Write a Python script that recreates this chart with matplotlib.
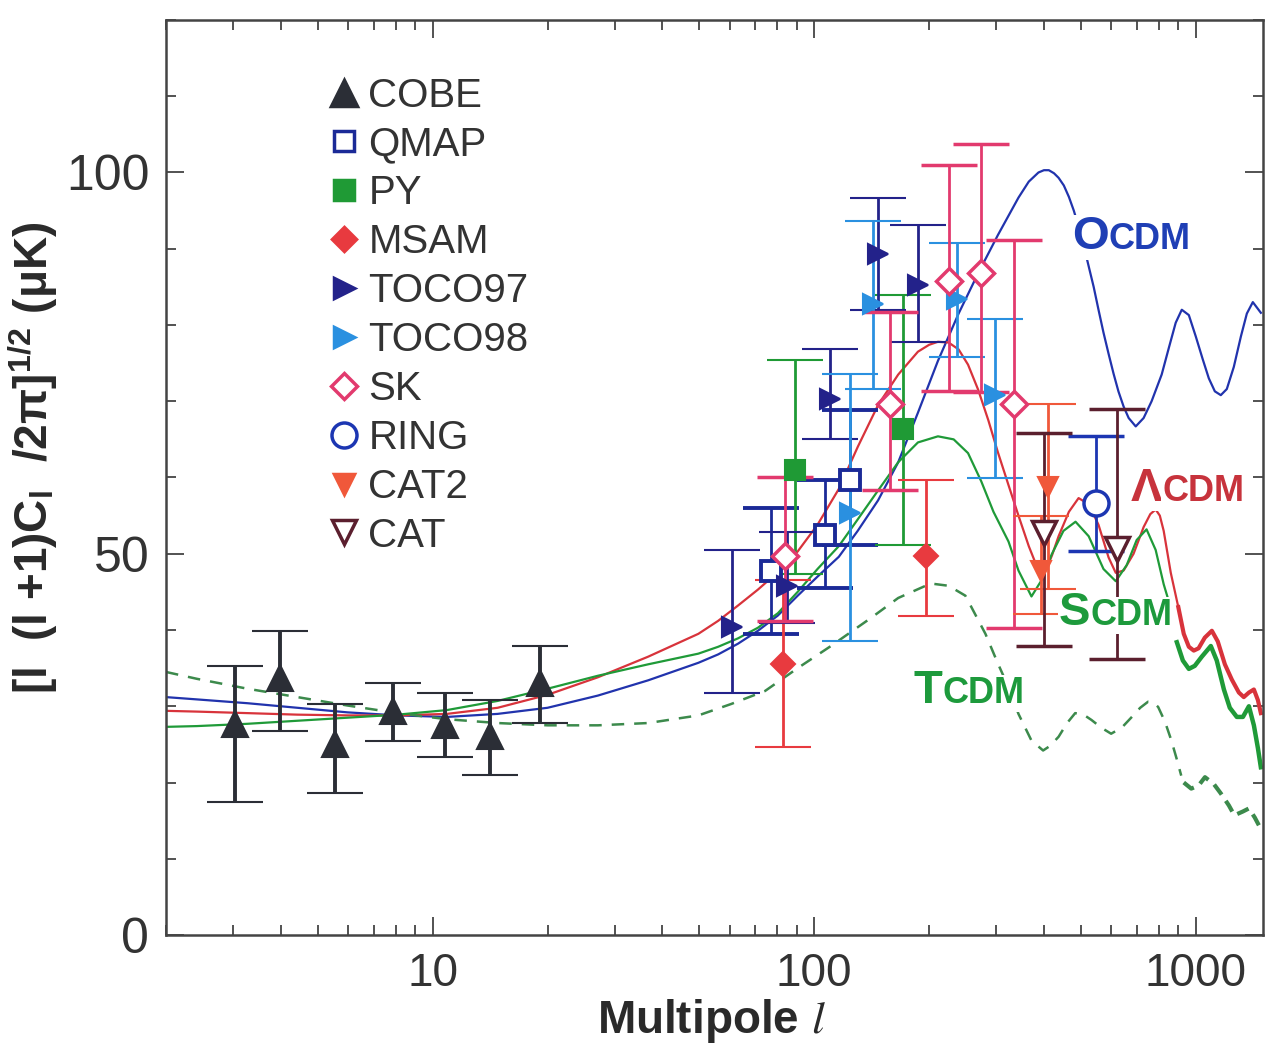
import numpy as np
import matplotlib.pyplot as plt
from matplotlib.lines import Line2D
from matplotlib.ticker import FixedLocator, LogLocator, NullFormatter, MultipleLocator

plt.rcParams['font.family'] = ['Liberation Sans', 'DejaVu Sans']
plt.rcParams['mathtext.fontset'] = 'stix'

# ---- model spectra (multipole l, amplitude in uK) ----
ocdm_l = [2.0, 2.41, 3.27, 4.42, 5.98, 8.09, 10.9, 14.8, 20.0, 27.1, 36.7, 49.7, 56.0, 63.1,
          71.2, 80.3, 90.5, 102, 116, 130, 147, 166, 187, 211, 239, 269, 303, 343, 365, 387,
          400, 412, 425, 437, 451, 465, 479, 493, 508, 524, 540, 556, 573, 591, 609, 627,
          647, 667, 696, 730, 766, 814, 850, 886, 919, 959, 1000, 1043, 1082, 1122, 1163,
          1206, 1258, 1313, 1361, 1411, 1481]
ocdm_t = [31.2, 30.9, 30.4, 29.8, 29.2, 28.8, 28.6, 29.0, 29.8, 31.4, 33.4, 35.7, 36.8, 38.2,
          39.9, 41.9, 44.5, 47.0, 49.6, 53.0, 57.0, 62.0, 68.5, 75.3, 81.5, 86.8, 91.8, 96.7,
          98.8, 100.0, 100.3, 100.3, 99.9, 99.3, 98.3, 96.8, 95.0, 92.9, 90.5, 87.7, 85.0,
          82.0, 79.0, 76.2, 73.6, 71.3, 69.3, 67.8, 66.7, 67.8, 70.0, 73.5, 77.0, 80.3, 82.0,
          81.3, 78.5, 75.5, 73.0, 71.3, 70.8, 71.6, 74.5, 78.5, 81.5, 83.0, 81.6]

lcdm_l = [2.0, 2.41, 3.27, 4.42, 5.98, 8.09, 10.9, 14.8, 20.0, 27.1, 36.7, 49.7, 56.0, 63.1,
          71.2, 80.3, 90.5, 102, 116, 130, 147, 166, 187, 200, 211, 225, 239, 253, 269, 286,
          303, 323, 343, 365, 387, 406, 420, 437, 465, 493, 524, 556, 591, 617, 647, 687,
          730, 760, 785, 805, 824, 860, 900]
lcdm_t = [29.4, 29.3, 29.1, 28.9, 28.8, 28.8, 29.0, 29.8, 31.5, 33.8, 36.5, 39.5, 41.2, 43.2,
          45.3, 47.6, 50.3, 53.8, 58.5, 64.0, 69.5, 73.5, 76.5, 77.4, 77.8, 77.7, 76.8, 74.8,
          71.5, 67.5, 63.3, 59.0, 55.0, 51.0, 47.8, 48.0, 49.8, 52.3, 55.5, 57.3, 56.5, 53.8,
          49.5, 47.5, 47.8, 50.0, 53.5, 55.2, 55.8, 55.0, 53.0, 47.5, 43.0]
lcdm_tail_l = [900, 930, 959, 988, 1017, 1056, 1102, 1142, 1192, 1243, 1297, 1336, 1378,
               1420, 1455, 1481]
lcdm_tail_t = [43.0, 39.5, 37.8, 37.3, 37.6, 39.0, 39.9, 38.5, 35.5, 33.5, 31.8, 31.2, 31.8,
               32.2, 30.8, 29.1]

scdm_l = [2.0, 2.41, 3.27, 4.42, 5.98, 8.09, 10.9, 14.8, 20.0, 27.1, 36.7, 49.7, 56.0, 63.1,
          71.2, 80.3, 90.5, 102, 116, 130, 147, 166, 187, 211, 232, 253, 274, 295, 323, 343,
          371, 394, 419, 450, 484, 524, 573, 617, 659, 700, 743, 785, 824, 847]
scdm_t = [27.3, 27.4, 27.7, 28.1, 28.5, 28.9, 29.5, 30.7, 32.3, 34.0, 35.5, 36.9, 37.8, 38.9,
          40.3, 42.2, 45.0, 48.0, 51.0, 54.5, 58.3, 62.0, 64.6, 65.4, 65.0, 63.2, 59.5, 55.5,
          51.6, 47.8, 44.4, 46.5, 49.9, 53.0, 54.2, 52.3, 48.0, 46.4, 48.5, 51.8, 53.2, 50.5,
          46.0, 44.0]
scdm_tail_l = [892, 925, 959, 994, 1037, 1095, 1135, 1185, 1228, 1281, 1329, 1378, 1420,
               1455, 1481]
scdm_tail_t = [38.4, 36.0, 34.9, 35.3, 36.5, 37.9, 36.0, 32.2, 29.8, 28.6, 28.6, 30.0, 27.5,
               24.5, 22.0]

tcdm_l = [2.0, 2.41, 3.27, 4.42, 5.98, 8.09, 10.9, 14.8, 20.0, 27.1, 36.7, 49.7, 60.6, 74.3,
          90.5, 110.6, 141, 166, 202, 225, 249, 281, 303, 323, 343, 371, 398, 415, 437, 460,
          483, 508, 533, 565, 600, 640, 677, 715, 750, 775, 797, 830, 862, 890, 916]
tcdm_t = [34.5, 33.6, 32.3, 31.2, 30.1, 29.1, 28.3, 27.8, 27.5, 27.5, 27.8, 28.8, 30.3, 32.0,
          35.0, 37.9, 41.6, 44.2, 46.1, 45.8, 44.5, 39.5, 35.6, 32.5, 29.0, 25.5, 24.2, 24.8,
          26.0, 27.8, 29.1, 28.9, 28.2, 27.2, 26.4, 27.2, 28.5, 29.8, 30.6, 30.5, 29.9, 28.0,
          25.6, 23.2, 20.9]
tcdm_tail_l = [930, 973, 1017, 1057, 1115, 1162, 1221, 1262, 1329, 1378, 1428, 1481]
tcdm_tail_t = [20.0, 19.2, 19.6, 20.7, 19.8, 18.6, 17.0, 15.7, 16.2, 16.6, 15.4, 13.9]

# ---- band-power measurements: l, value, lower and upper end of error bar ----
cobe_l = [3.04, 3.99, 5.53, 7.85, 10.75, 14.1, 19.1]
cobe_t = [27.7, 33.7, 25.1, 29.4, 27.5, 26.1, 33.1]
cobe_lo = [17.5, 26.8, 18.6, 25.4, 23.4, 21.0, 27.8]
cobe_hi = [35.3, 39.9, 30.3, 33.1, 31.8, 30.8, 37.9]

qmap_l = [77, 107, 124]
qmap_t = [47.8, 52.5, 59.7]
qmap_lo = [39.5, 45.5, 51.2]
qmap_hi = [56.0, 59.7, 68.9]

py_l = [89, 171]
py_t = [61.0, 66.3]
py_lo = [47.3, 51.2]
py_hi = [75.4, 83.9]

msam_l = [83, 196]
msam_t = [35.6, 49.7]
msam_lo = [24.6, 41.8]
msam_hi = [46.6, 59.7]

toco97_l = [61, 85, 110, 147, 187]
toco97_t = [40.4, 45.8, 70.3, 89.3, 85.2]
toco97_lo = [31.8, 40.9, 65.0, 82.0, 77.8]
toco97_hi = [50.5, 52.9, 76.9, 96.6, 93.1]

toco98_l = [124, 143, 236, 298]
toco98_t = [55.3, 82.7, 83.4, 70.8]
toco98_lo = [38.6, 71.6, 75.8, 59.9]
toco98_hi = [73.6, 93.6, 90.8, 80.8]

sk_l = [84, 158, 225, 273, 333]
sk_t = [49.7, 69.7, 85.8, 86.8, 69.7]
sk_lo = [41.2, 58.4, 71.4, 71.2, 40.3]
sk_hi = [60.1, 81.7, 101.0, 103.7, 91.2]

ring_l = [547]
ring_t = [56.6]
ring_lo = [50.3]
ring_hi = [65.5]

cat2_l = [411, 394]
cat2_t = [58.8, 47.7]
cat2_lo = [45.4, 42.1]
cat2_hi = [69.7, 54.9]

cat_l = [399, 621]
cat_t = [52.7, 50.6]
cat_lo = [37.9, 36.2]
cat_hi = [65.9, 69.0]

c_ocdm = '#2133ad'
c_lcdm = '#d8333b'
c_scdm = '#1f9a38'
c_tcdm = '#3c8a4c'

fig = plt.figure(figsize=(12.66, 10.57), dpi=100)
ax = fig.add_axes([0.1311, 0.1154, 0.8665, 0.8657])

# model curves
ax.plot(ocdm_l, ocdm_t, color=c_ocdm, lw=1.6, zorder=2)
ax.plot(lcdm_l, lcdm_t, color=c_lcdm, lw=1.6, zorder=2)
ax.plot(lcdm_tail_l, lcdm_tail_t, color=c_lcdm, lw=3.0, zorder=2)
ax.plot(scdm_l, scdm_t, color=c_scdm, lw=1.6, zorder=2)
ax.plot(scdm_tail_l, scdm_tail_t, color=c_scdm, lw=3.2, zorder=2)
ax.plot(tcdm_l, tcdm_t, color=c_tcdm, lw=1.8, ls=(0, (5, 4)), zorder=2)
ax.plot(tcdm_tail_l, tcdm_tail_t, color=c_tcdm, lw=3.0, ls=(0, (3, 1.8)), zorder=2)


def points(l, t, lo, hi, color, marker, ms, mfc=None, mew=1.5, lw=2.0):
    t = np.array(t)
    yerr = [t - np.array(lo), np.array(hi) - t]
    ax.errorbar(l, t, yerr=yerr, ls='none', color=color, ecolor=color,
                elinewidth=lw, capsize=20, capthick=lw,
                marker=marker, ms=ms, mfc=mfc if mfc else color, mec=color, mew=mew,
                zorder=3)


points(cobe_l, cobe_t, cobe_lo, cobe_hi, '#2b2e36', '^', 19, lw=2.8)
points(qmap_l, qmap_t, qmap_lo, qmap_hi, '#1b2a97', 's', 15, mfc='white', mew=2.8)
points(py_l, py_t, py_lo, py_hi, '#1f9a35', 's', 14)
points(msam_l, msam_t, msam_lo, msam_hi, '#e83a3f', 'D', 12)
points(toco97_l, toco97_t, toco97_lo, toco97_hi, '#23228a', '>', 15)
points(toco98_l, toco98_t, toco98_lo, toco98_hi, '#2a90e0', '>', 15)
points(sk_l, sk_t, sk_lo, sk_hi, '#e23a6e', 'D', 13, mfc='white', mew=2.5)
points(ring_l, ring_t, ring_lo, ring_hi, '#1c36b2', 'o', 18, mfc='white', mew=2.5)
points(cat2_l, cat2_t, cat2_lo, cat2_hi, '#f0583a', 'v', 15)
points(cat_l, cat_t, cat_lo, cat_hi, '#5b1f2e', 'v', 17, mfc='white', mew=2.5)

# model names: big initial, small-cap rest, on white so they mask the curves
white = dict(facecolor='white', edgecolor='none', pad=0.5)


def model_label(l, t, first, rest, color):
    t1 = ax.text(l, t, first, color=color, fontsize=34, fontweight='bold',
                 ha='left', va='center', bbox=white, zorder=4)
    ax.annotate(rest, xy=(1, 0), xycoords=t1, xytext=(0, 1.5), textcoords='offset points',
                ha='left', va='bottom', color=color, fontsize=26, fontweight='bold',
                bbox=white, zorder=4)


model_label(473, 91.5, 'O', 'CDM', '#1f3fb5')
model_label(675, 58.5, '\u039b', 'CDM', '#c7333c')
model_label(437, 42.2, 'S', 'CDM', '#1d9a3c')
model_label(182, 32.0, 'T', 'CDM', '#1d9a3c')

# legend with marker-only handles
names = ['COBE', 'QMAP', 'PY', 'MSAM', 'TOCO97', 'TOCO98', 'SK', 'RING', 'CAT2', 'CAT']
styles = [('#2b2e36', '^', 19, None), ('#1b2a97', 's', 15, 'white'), ('#1f9a35', 's', 14, None),
          ('#e83a3f', 'D', 12, None), ('#23228a', '>', 15, None), ('#2a90e0', '>', 15, None),
          ('#e23a6e', 'D', 13, 'white'), ('#1c36b2', 'o', 18, 'white'), ('#f0583a', 'v', 15, None),
          ('#5b1f2e', 'v', 17, 'white')]
handles = [Line2D([], [], ls='none', marker=m, ms=s, color=c, mec=c, mfc=f if f else c, mew=2.5)
           for c, m, s, f in styles]
ax.legend(handles, names, loc='upper left', bbox_to_anchor=(0.146, 0.938), frameon=False,
          fontsize=29, handlelength=0.9, handletextpad=0.15, labelspacing=0.27,
          borderpad=0, borderaxespad=0, labelcolor='#333333')

# axes
ax.set_xscale('log')
ax.set_xlim(2, 1500)
ax.set_ylim(0, 120)
ax.xaxis.set_major_locator(FixedLocator([10, 100, 1000]))
ax.set_xticklabels(['10', '100', '1000'])
ax.xaxis.set_minor_locator(LogLocator(base=10, subs=np.arange(2, 10)))
ax.xaxis.set_minor_formatter(NullFormatter())
ax.yaxis.set_major_locator(FixedLocator([0, 50, 100]))
ax.yaxis.set_minor_locator(MultipleLocator(10))

ax.tick_params(which='both', direction='in', top=True, right=True, color='#444444', width=1.3)
ax.tick_params(which='major', length=13)
ax.tick_params(which='minor', length=7.5)
ax.tick_params(axis='x', which='major', labelsize=33, pad=12, labelcolor='#333333')
ax.tick_params(axis='y', which='major', labelsize=36, pad=12, labelcolor='#333333')
for sp in ax.spines.values():
    sp.set_color('#444444')
    sp.set_linewidth(1.8)

ax.set_xlabel('Multipole $l$', fontsize=33, fontweight='bold', color='#2a2a2a')
ax.xaxis.set_label_coords(0.497, -0.068)
ax.set_ylabel('[l  (l +1)C$_\\mathregular{l}$  /2\u03c0]$^\\mathregular{1/2}$ (\u03bcK)',
              fontsize=33, fontweight='bold', color='#2a2a2a')
ax.yaxis.set_label_coords(-0.097, 0.522)

fig.savefig('out.png', dpi=100)
